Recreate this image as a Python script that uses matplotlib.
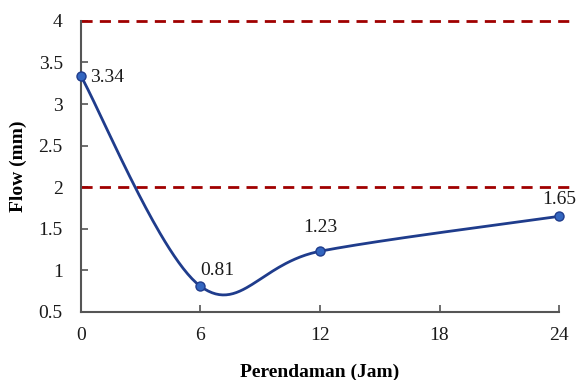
import numpy as np
import matplotlib
matplotlib.use('Agg')
import matplotlib.pyplot as plt
from matplotlib.ticker import FuncFormatter

# soaking time (hours) vs flow (mm)
jam = [0, 6, 12, 24]
flow = [3.34, 0.81, 1.23, 1.65]
batas = [4, 2]  # spec limits
xticks = [0, 6, 12, 18, 24]
yticks = [0.5, 1, 1.5, 2, 2.5, 3, 3.5, 4]

plt.rcParams['font.family'] = ['Liberation Serif', 'DejaVu Serif']


def smooth(xs, ys, n=60):
    # catmull-rom bezier, like excel's smoothed line
    p = np.column_stack([xs, ys]).astype(float)
    out = []
    for i in range(len(p) - 1):
        p0 = p[i - 1] if i > 0 else p[i]
        p1, p2 = p[i], p[i + 1]
        p3 = p[i + 2] if i + 2 < len(p) else p[i + 1]
        b1 = p1 + (p2 - p0) / 6
        b2 = p2 - (p3 - p1) / 6
        t = np.linspace(0, 1, n)[:, None]
        seg = (1 - t)**3 * p1 + 3 * (1 - t)**2 * t * b1 + 3 * (1 - t) * t**2 * b2 + t**3 * p2
        out.append(seg)
    c = np.vstack(out)
    return c[:, 0], c[:, 1]


fig = plt.figure(figsize=(5.77, 3.8), dpi=100)
ax = fig.add_axes([0.140, 0.179, 0.829, 0.766])

for b in batas:
    ax.axhline(b, xmin=0, xmax=1.03, color='#a00000', lw=2, ls=(0, (4, 2.6)), clip_on=False, zorder=2)

sx, sy = smooth(jam, flow)
ax.plot(sx, sy, color='#1f3c8c', lw=2, zorder=3)
ax.plot(jam, flow, 'o', ms=6.5, mfc='#3366c0', mec='#1f3c8c', mew=1, zorder=4, clip_on=False)

# label offsets in points: dx, dy, ha, va
offs = {0: (6.5, -1, 'left', 'center'), 6: (0, 8, 'left', 'baseline'),
        12: (0, 14, 'center', 'baseline'), 24: (0, 9, 'center', 'baseline')}
for x, y in zip(jam, flow):
    dx, dy, ha, va = offs[x]
    ax.annotate('%.2f' % y, (x, y), xytext=(dx, dy), textcoords='offset points',
                ha=ha, va=va, fontsize=14, color='#1a1a1a', annotation_clip=False)

ax.set_xlim(0, 24)
ax.set_ylim(0.5, 4)
ax.set_xticks(xticks)
ax.set_yticks(yticks)
ax.yaxis.set_major_formatter(FuncFormatter(lambda v, p: '%g' % v))
ax.tick_params(direction='in', length=5, width=1.2, color='#555555', labelsize=14, labelcolor='#1a1a1a')
ax.tick_params(axis='x', pad=11)
ax.tick_params(axis='y', pad=13)
for s in ['top', 'right']:
    ax.spines[s].set_visible(False)
for s in ['left', 'bottom']:
    ax.spines[s].set_color('#555555')
    ax.spines[s].set_linewidth(1.5)

ax.set_xlabel('Perendaman (Jam)', fontsize=14, fontweight='bold', labelpad=14)
ax.set_ylabel('Flow (mm)', fontsize=14, fontweight='bold', labelpad=8)

fig.savefig('out.png', dpi=100)
